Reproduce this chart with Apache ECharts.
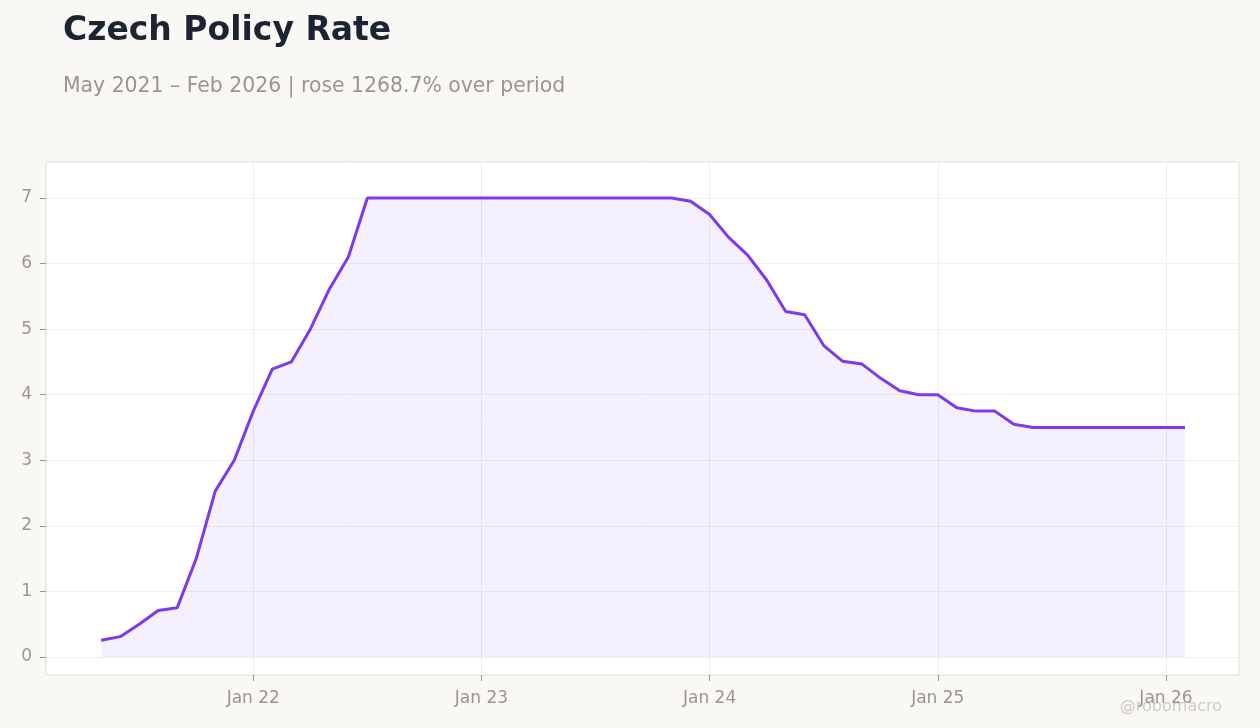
<!DOCTYPE html>
<html>
<head>
<meta charset="utf-8">
<script src="https://cdn.jsdelivr.net/npm/echarts@6/dist/echarts.min.js"></script>
<style>
  html, body { margin: 0; padding: 0; background: #f9f8f5; }
  #chart { width: 1260px; height: 728px; }
</style>
</head>
<body>
<div id="chart"></div>
<script>
// months counted from Jan 2021 (0 = Jan 21), first point May 2021
const startMonth = 4
const rates = [
  0.256, 0.31, 0.5, 0.71, 0.75, 1.5, 2.53, 3.0, 3.75, 4.39, 4.5, 5.0,
  5.61, 6.1, 7.0, 7.0, 7.0, 7.0, 7.0, 7.0, 7.0, 7.0, 7.0, 7.0,
  7.0, 7.0, 7.0, 7.0, 7.0, 7.0, 7.0, 6.95, 6.75, 6.4, 6.13, 5.75,
  5.27, 5.22, 4.75, 4.51, 4.47, 4.25, 4.06, 4.0, 4.0, 3.8, 3.75, 3.75,
  3.55, 3.5, 3.5, 3.5, 3.5, 3.5, 3.5, 3.5, 3.5, 3.5
]
const yearTicks = [12, 24, 36, 48, 60]
const yearLabels = { 12: 'Jan 22', 24: 'Jan 23', 36: 'Jan 24', 48: 'Jan 25', 60: 'Jan 26' }
const yTicks = [0, 1, 2, 3, 4, 5, 6, 7]

const points = rates.map((v, i) => [startMonth + i, v])
const grey = '#9a9590'
const font = '"DejaVu Sans", sans-serif'

const chart = echarts.init(document.getElementById('chart'))
chart.setOption({
  backgroundColor: '#f9f8f5',
  animation: false,
  title: {
    text: 'Czech Policy Rate',
    subtext: 'May 2021 – Feb 2026 | rose 1268.7% over period',
    left: 58, top: 10, itemGap: 29,
    textStyle: { fontFamily: font, fontSize: 33, fontWeight: 'bold', color: '#1c2434' },
    subtextStyle: { fontFamily: font, fontSize: 20.4, color: grey }
  },
  graphic: [{
    type: 'text', right: 38, top: 699,
    style: { text: '@robomacro', fontFamily: font, fontSize: 16, fill: '#cfcbc6' }
  }],
  grid: {
    left: 46, right: 21, top: 162, bottom: 53,
    show: true, backgroundColor: '#ffffff', borderColor: '#e2ddd6', borderWidth: 1
  },
  xAxis: {
    type: 'value', min: 1.1, max: 63.84,
    axisLine: { show: false, onZero: false },
    axisTick: { show: true, customValues: yearTicks, length: 6, lineStyle: { color: grey } },
    axisLabel: {
      customValues: yearTicks, margin: 15,
      formatter: v => yearLabels[v] || '',
      fontFamily: font, fontSize: 17, color: grey
    },
    splitLine: { show: true, customValues: yearTicks, lineStyle: { color: '#efedf2' } }
  },
  yAxis: {
    type: 'value', min: -0.275, max: 7.55,
    axisLine: { show: false },
    axisTick: { show: true, customValues: yTicks, length: 6, lineStyle: { color: grey } },
    axisLabel: {
      customValues: yTicks, margin: 14,
      fontFamily: font, fontSize: 17, color: grey
    },
    splitLine: { show: true, customValues: yTicks, lineStyle: { color: '#f0eeee' } }
  },
  series: [{
    type: 'line',
    data: points,
    symbol: 'none',
    lineStyle: { color: '#7c3aed', width: 3 },
    areaStyle: { color: 'rgba(124,58,237,0.11)', origin: 0 }
  }]
})
</script>
</body>
</html>
